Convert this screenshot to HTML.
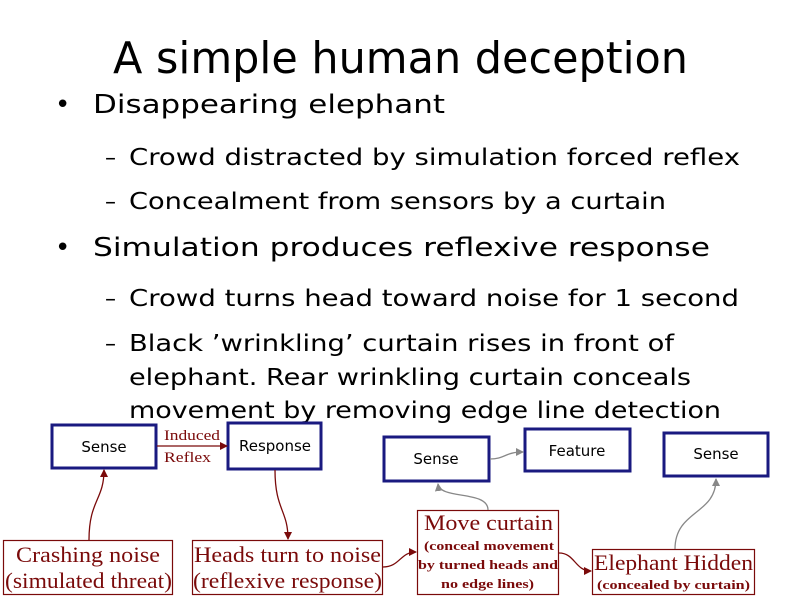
<!DOCTYPE html>
<html><head><meta charset="utf-8"><style>html,body{margin:0;padding:0;background:#fff}svg{display:block}</style></head>
<body>
<svg width="800" height="600" viewBox="0 0 800 600" xmlns="http://www.w3.org/2000/svg">
<defs>
<marker id="r" markerWidth="8" markerHeight="8" refX="7" refY="4" orient="auto" markerUnits="userSpaceOnUse"><path d="M0,0 L8,4 L0,8 z" fill="#7a0a0a"/></marker>
<marker id="g" markerWidth="8" markerHeight="8" refX="7" refY="4" orient="auto" markerUnits="userSpaceOnUse"><path d="M0,0 L8,4 L0,8 z" fill="#888"/></marker>
</defs>
<g font-family="DejaVu Sans, Liberation Sans, sans-serif" fill="#000">
<text x="113" y="73" font-size="44" textLength="575" lengthAdjust="spacingAndGlyphs">A simple human deception</text>
<text x="55" y="113" font-size="26">•</text>
<text x="93" y="113" font-size="26" textLength="352" lengthAdjust="spacingAndGlyphs">Disappearing elephant</text>
<text x="105" y="165" font-size="22">–</text>
<text x="129" y="165" font-size="23" textLength="611" lengthAdjust="spacingAndGlyphs">Crowd distracted by simulation forced reflex</text>
<text x="105" y="209" font-size="22">–</text>
<text x="129" y="209" font-size="23" textLength="537" lengthAdjust="spacingAndGlyphs">Concealment from sensors by a curtain</text>
<text x="55" y="256" font-size="26">•</text>
<text x="93" y="256" font-size="26" textLength="617" lengthAdjust="spacingAndGlyphs">Simulation produces reflexive response</text>
<text x="105" y="306" font-size="22">–</text>
<text x="129" y="306" font-size="23" textLength="610" lengthAdjust="spacingAndGlyphs">Crowd turns head toward noise for 1 second</text>
<text x="105" y="351" font-size="22">–</text>
<text x="129" y="351" font-size="23" textLength="545" lengthAdjust="spacingAndGlyphs">Black ’wrinkling’ curtain rises in front of</text>
<text x="129" y="385" font-size="23" textLength="562" lengthAdjust="spacingAndGlyphs">elephant. Rear wrinkling curtain conceals</text>
<text x="129" y="418" font-size="23" textLength="592" lengthAdjust="spacingAndGlyphs">movement by removing edge line detection</text>
</g>
<g fill="#fff" stroke="#1a1a80" stroke-width="3">
<rect x="52" y="425" width="104" height="43"/>
<rect x="228" y="423" width="93" height="46"/>
<rect x="384" y="437" width="105" height="44"/>
<rect x="525" y="429" width="105" height="42"/>
<rect x="664" y="433" width="104" height="43"/>
</g>
<g font-family="DejaVu Sans, Liberation Sans, sans-serif" font-size="15" text-anchor="middle">
<text x="104" y="452">Sense</text>
<text x="275" y="451">Response</text>
<text x="436" y="464">Sense</text>
<text x="577" y="456">Feature</text>
<text x="716" y="459">Sense</text>
</g>
<g fill="none" stroke="#7a0a0a" stroke-width="1.2">
<rect x="3.5" y="540.5" width="169" height="54"/>
<rect x="192.5" y="540.5" width="190" height="54"/>
<rect x="417.5" y="510.5" width="141" height="84"/>
<rect x="592.5" y="549.5" width="162" height="45"/>
</g>
<g font-family="Liberation Serif, serif" fill="#7a0a0a">
<text x="16" y="562" font-size="22" textLength="144" lengthAdjust="spacingAndGlyphs">Crashing noise</text>
<text x="5" y="588" font-size="22" textLength="167" lengthAdjust="spacingAndGlyphs">(simulated threat)</text>
<text x="194" y="562" font-size="22" textLength="187" lengthAdjust="spacingAndGlyphs">Heads turn to noise</text>
<text x="193" y="588" font-size="22" textLength="189" lengthAdjust="spacingAndGlyphs">(reflexive response)</text>
<text x="424" y="530" font-size="22" textLength="129" lengthAdjust="spacingAndGlyphs">Move curtain</text>
<text x="424" y="550" font-size="13" font-weight="bold" textLength="130" lengthAdjust="spacingAndGlyphs">(conceal movement</text>
<text x="418" y="569" font-size="13" font-weight="bold" textLength="140" lengthAdjust="spacingAndGlyphs">by turned heads and</text>
<text x="441" y="588" font-size="13" font-weight="bold" textLength="93" lengthAdjust="spacingAndGlyphs">no edge lines)</text>
<text x="594" y="570" font-size="22" textLength="159" lengthAdjust="spacingAndGlyphs">Elephant Hidden</text>
<text x="597" y="589" font-size="13" font-weight="bold" textLength="153" lengthAdjust="spacingAndGlyphs">(concealed by curtain)</text>
<text x="164" y="440" font-size="15" textLength="56" lengthAdjust="spacingAndGlyphs">Induced</text>
<text x="164" y="462" font-size="15" textLength="47" lengthAdjust="spacingAndGlyphs">Reflex</text>
</g>
<g fill="none" stroke="#7a0a0a" stroke-width="1.3">
<path d="M157,446 L227,446" marker-end="url(#r)"/>
<path d="M89,540 C89,500 104,500 104,470" marker-end="url(#r)"/>
<path d="M275,470 C275,510 288,510 288,539" marker-end="url(#r)"/>
<path d="M383,567 C400,567 400,552 416,552" marker-end="url(#r)"/>
<path d="M559,553 C575,553 575,571 591,571" marker-end="url(#r)"/>
</g>
<g fill="none" stroke="#888" stroke-width="1.3">
<path d="M488,510 C488,490 440,500 438,484" marker-end="url(#g)"/>
<path d="M490,459 C505,459 505,452 523,452" marker-end="url(#g)"/>
<path d="M675,549 C675,510 716,515 716,479" marker-end="url(#g)"/>
</g>
</svg>
</body></html>
